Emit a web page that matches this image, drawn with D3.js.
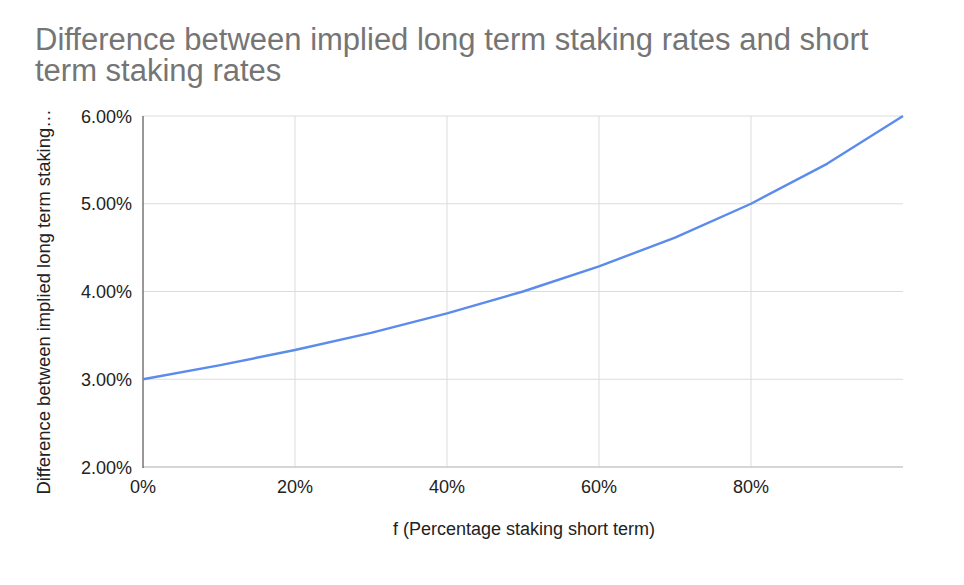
<!DOCTYPE html>
<html><head><meta charset="utf-8">
<script src="https://cdn.jsdelivr.net/npm/d3@7"></script>
<style>body{margin:0;background:#fff}text{font-family:"Liberation Sans",Arial,sans-serif}</style>
</head><body><svg id="c" width="964" height="585"></svg>
<script>
const fValues = [0, 0.1, 0.2, 0.3, 0.4, 0.5, 0.6, 0.7, 0.8, 0.9, 1.0];
const diffValues = [0.0300, 0.03158, 0.03333, 0.03529, 0.0375, 0.0400, 0.04286, 0.04615, 0.0500, 0.05455, 0.0600];
const xTicks = [0, 0.2, 0.4, 0.6, 0.8];
const yTicks = [0.02, 0.03, 0.04, 0.05, 0.06];
const titleLines = ["Difference between implied long term staking rates and short", "term staking rates"];
const xTitle = "f (Percentage staking short term)";
const yTitle = "Difference between implied long term staking…";

const svg = d3.select("#c");
const x = d3.scaleLinear().domain([0, 1]).range([143, 903]);
const y = d3.scaleLinear().domain([0.02, 0.06]).range([467, 116]);

svg.append("g").selectAll("line").data(yTicks.slice(1)).join("line")
  .attr("x1", x(0)).attr("x2", x(1)).attr("y1", d => y(d)).attr("y2", d => y(d))
  .attr("stroke", "#dcdcdc").attr("stroke-width", 1);
svg.append("g").selectAll("line").data(xTicks.slice(1)).join("line")
  .attr("x1", d => x(d)).attr("x2", d => x(d)).attr("y1", y(0.02)).attr("y2", y(0.06))
  .attr("stroke", "#dcdcdc").attr("stroke-width", 1);
// bottom axis
svg.append("line").attr("x1", x(0)).attr("x2", x(1)).attr("y1", y(0.02)).attr("y2", y(0.02))
  .attr("stroke", "#c8c8c8").attr("stroke-width", 1.5);
// left axis
svg.append("line").attr("x1", x(0)).attr("x2", x(0)).attr("y1", y(0.02)+1).attr("y2", y(0.06))
  .attr("stroke", "#333").attr("stroke-width", 1);

svg.append("g").selectAll("text").data(yTicks).join("text")
  .attr("x", 132).attr("y", d => y(d) + 6.5).attr("text-anchor", "end")
  .attr("font-size", 18).attr("fill", "#222").text(d => d3.format(".2%")(d));
svg.append("g").selectAll("text").data(xTicks).join("text")
  .attr("x", d => x(d)).attr("y", 492.5).attr("text-anchor", "middle")
  .attr("font-size", 18).attr("fill", "#222").text(d => d3.format(".0%")(d));

const line = d3.line().x((d, i) => x(fValues[i])).y(d => y(d));
svg.append("path").datum(diffValues).attr("d", line)
  .attr("fill", "none").attr("stroke", "#5b8bec").attr("stroke-width", 2.4)
  .attr("stroke-linejoin", "round");

svg.append("g").selectAll("text").data(titleLines).join("text")
  .attr("x", 35).attr("y", (d, i) => 50 + i * 31)
  .attr("font-size", 31).attr("fill", "#757575").text(d => d);

svg.append("text").attr("x", 524).attr("y", 535).attr("text-anchor", "middle")
  .attr("font-size", 18).attr("fill", "#222").text(xTitle);
svg.append("text").attr("transform", "translate(50,302) rotate(-90)").attr("text-anchor", "middle")
  .attr("font-size", 18.4).attr("fill", "#222").text(yTitle);
</script></body></html>
